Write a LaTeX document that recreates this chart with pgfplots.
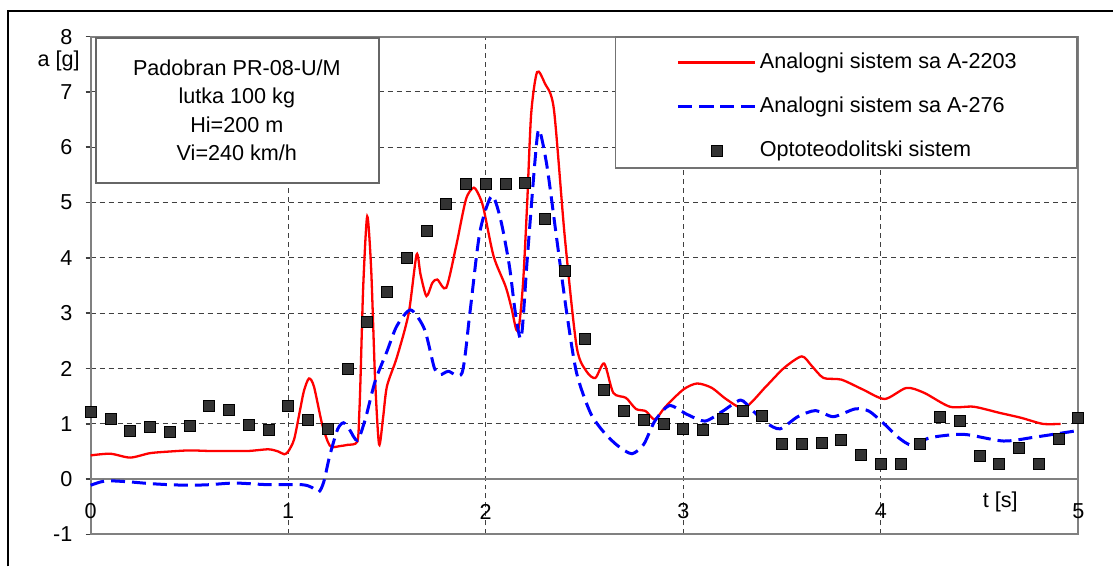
\documentclass[border=0pt]{standalone}
\usepackage{fontspec}
\setmainfont{Liberation Sans}
\usepackage{pgfplots}
\pgfplotsset{compat=1.18}
\usetikzlibrary{calc}

\definecolor{markgray}{RGB}{51,51,51}

\pgfplotsset{
  legline/.style={legend image code/.code={%
    \draw[mark repeat=2,mark phase=2,##1] plot coordinates {(0pt,0pt) (19.25pt,0pt) (38.5pt,0pt)};}},
}

\begin{document}
\begin{tikzpicture}
\begin{axis}[
  scale only axis,
  width=494pt, height=249pt,
  xmin=0, xmax=5, ymin=-1, ymax=8,
  xtick={0,...,5}, ytick={-1,...,8},
  axis line style={draw=black!50, line width=1pt},
  tick align=outside, ytick pos=left, xtick style={draw=none},
  major tick length=2.5pt, ytick style={black!75, line width=0.8pt},
  grid=major,
  major grid style={black!75, line width=0.5pt, dash pattern=on 2.5pt off 2pt},
  font=\fontsize{10.8}{13}\selectfont,
  /pgf/number format/assume math mode=true,
  xticklabel style={anchor=center, yshift=14pt},
  yticklabel style={inner sep=0pt, xshift=-6.5pt},
  clip=false,
  legend cell align=left,
  legend style={draw=none, fill=none, at={(axis cs:2.966,7.72)}, anchor=north west,
    inner xsep=0pt, inner ysep=0pt, row sep=12.3pt, column sep=1.5pt,
    nodes={inner sep=0pt, text depth=0.2em}, font=\fontsize{10.8}{13}\selectfont},
]
% boxes for the note and the legend, and the zero line
\draw[black!60, line width=0.9pt, fill=white] (axis cs:0.025,5.36) rectangle (axis cs:1.46,7.98);
\draw[black!55, line width=0.9pt, fill=white] (axis cs:2.657,5.62) rectangle (axis cs:4.995,7.99);
\draw[black!50, line width=1pt] (axis cs:0,0) -- (axis cs:5,0);
\node[align=center, inner sep=0pt, font=\fontsize{10.8}{14.25}\selectfont] at (axis cs:0.74,6.67)
  {Padobran PR-08-U/M\\lutka 100 kg\\Hi=200 m\\Vi=240 km/h};
\node at (axis cs:-0.162,7.56) {a [g]};
\node at (axis cs:4.605,-0.42) {t [s]};

\addplot[red, line width=1.15pt, smooth, tension=0.45, legline] coordinates {
(0,0.43) (0.1,0.46) (0.2,0.39) (0.3,0.47) (0.4,0.50) (0.5,0.52) (0.6,0.51)
(0.7,0.51) (0.8,0.51) (0.9,0.54) (0.95,0.50) (0.98,0.45) (1.0,0.50) (1.03,0.72)
(1.06,1.25) (1.08,1.60) (1.105,1.82) (1.13,1.68) (1.17,1.02) (1.20,0.68) (1.22,0.58)
(1.265,0.60) (1.30,0.62) (1.35,0.68) (1.36,1.2) (1.366,1.8) (1.38,3.5) (1.40,4.75)
(1.42,3.8) (1.44,1.8) (1.46,0.63) (1.48,1.1) (1.50,1.68) (1.55,2.2) (1.61,3.0)
(1.65,4.06) (1.67,3.7) (1.70,3.31) (1.73,3.55) (1.755,3.61) (1.80,3.46) (1.85,4.21)
(1.90,5.06) (1.94,5.27) (1.97,5.1) (1.99,4.88) (2.04,4.03) (2.10,3.49) (2.13,3.1)
(2.155,2.7) (2.17,2.8) (2.19,3.6) (2.21,5.0) (2.23,6.6) (2.26,7.36) (2.30,7.15)
(2.345,6.69) (2.40,4.39) (2.46,2.40) (2.51,1.95) (2.555,1.83) (2.60,2.09) (2.646,1.56)
(2.71,1.47) (2.76,1.27) (2.81,1.23) (2.856,1.08) (2.91,1.31) (3.0,1.62) (3.07,1.73)
(3.145,1.65) (3.22,1.44) (3.31,1.29) (3.42,1.68) (3.51,2.01) (3.60,2.22) (3.65,2.05)
(3.71,1.83) (3.80,1.80) (3.91,1.62) (4.02,1.45) (4.13,1.65) (4.22,1.56) (4.35,1.31)
(4.47,1.31) (4.60,1.20) (4.71,1.11) (4.82,1.00) (4.91,1.00)
};
\addlegendentry{Analogni sistem sa A-2203}

\addplot[blue, line width=1.5pt, dash pattern=on 7pt off 3.5pt, smooth, tension=0.45, legline] coordinates {
(0,-0.11) (0.05,-0.05) (0.1,-0.03) (0.2,-0.05) (0.3,-0.08) (0.4,-0.10) (0.5,-0.11)
(0.6,-0.10) (0.73,-0.07) (0.9,-0.10) (1.07,-0.10) (1.12,-0.15) (1.155,-0.23) (1.18,-0.05)
(1.21,0.42) (1.25,0.90) (1.28,1.02) (1.31,0.90) (1.35,0.70) (1.39,1.08) (1.44,1.77)
(1.50,2.31) (1.55,2.77) (1.62,3.06) (1.69,2.71) (1.74,2.01) (1.77,1.89) (1.81,1.95)
(1.88,1.92) (1.92,3.01) (1.97,4.46) (2.03,5.12) (2.075,4.70) (2.12,3.85) (2.15,3.01)
(2.18,2.56) (2.21,3.97) (2.25,5.78) (2.27,6.32) (2.31,5.66) (2.36,4.33) (2.41,3.01)
(2.46,1.92) (2.53,1.20) (2.60,0.84) (2.67,0.60) (2.74,0.46) (2.80,0.63) (2.856,1.05)
(2.93,1.33) (3.02,1.17) (3.11,1.05) (3.20,1.23) (3.29,1.43) (3.345,1.26) (3.42,1.02)
(3.49,0.91) (3.58,1.13) (3.67,1.24) (3.76,1.13) (3.87,1.27) (3.94,1.23) (4.02,0.99)
(4.09,0.75) (4.16,0.61) (4.25,0.75) (4.42,0.81) (4.62,0.69) (4.78,0.76) (5.0,0.88)
};
\addlegendentry{Analogni sistem sa A-276}

\addplot[only marks, mark=square*, mark size=2.75pt, draw=none, fill=markgray, legline] coordinates {
(0,1.21) (0.1,1.09) (0.2,0.88) (0.3,0.94) (0.4,0.86) (0.5,0.96) (0.6,1.32) (0.7,1.25)
(0.8,0.98) (0.9,0.89) (1.0,1.32) (1.1,1.08) (1.2,0.91) (1.3,2.0) (1.4,2.84) (1.5,3.39)
(1.6,4.0) (1.7,4.48) (1.8,4.97) (1.9,5.34) (2.0,5.34) (2.1,5.34) (2.2,5.36) (2.3,4.71)
(2.4,3.76) (2.5,2.53) (2.6,1.62) (2.7,1.24) (2.8,1.08) (2.9,1.00) (3.0,0.90) (3.1,0.89)
(3.2,1.09) (3.3,1.23) (3.4,1.15) (3.5,0.63) (3.6,0.63) (3.7,0.66) (3.8,0.71) (3.9,0.43)
(4.0,0.27) (4.1,0.28) (4.2,0.63) (4.3,1.13) (4.4,1.05) (4.5,0.42) (4.6,0.27) (4.7,0.56)
(4.8,0.27) (4.9,0.72) (5.0,1.11)
};
\addlegendentry{Optoteodolitski sistem}
\end{axis}
\pgfresetboundingbox
\path[use as bounding box] ($(current axis.south west)+(-45.35pt,-16pt)$) rectangle ($(current axis.north east)+(17.35pt,18.35pt)$);
\draw[line width=1pt] ($(current axis.south west)+(-41.35pt,-16pt)$) -- ($(current axis.north west)+(-41.35pt,12.85pt)$) -- ($(current axis.north east)+(17.35pt,12.85pt)$);
\end{tikzpicture}
\end{document}
